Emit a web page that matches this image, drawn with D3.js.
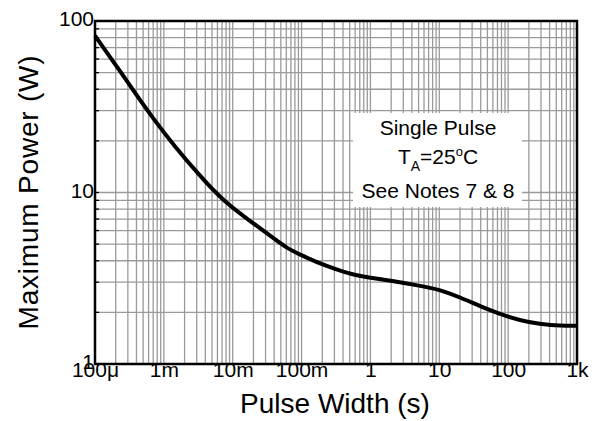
<html>
<head>
    <script src="https://d3js.org/d3.v7.min.js"></script>
    <style>
        body { margin: 0; background: #fff; }
        text { font-family: "Liberation Sans", Arial, sans-serif; fill: #000; }
    </style>
</head>
<body>
<script>
// data (pulse width in s, max power in W)
var pulseWidth = [1e-4, 2e-4, 4e-4, 7e-4, 1.4e-3, 3.4e-3, 7.3e-3, 0.02, 0.035, 0.06, 0.1, 0.2, 0.3, 0.5, 1, 2, 5, 10, 20, 50, 100, 200, 400, 1000];
var maxPower   = [82, 55.5, 37, 27, 18.8, 12.4, 8.9, 6.6, 5.6, 4.75, 4.3, 3.8, 3.6, 3.35, 3.18, 3.06, 2.87, 2.72, 2.45, 2.08, 1.88, 1.75, 1.68, 1.67];
var xTickValues = [1e-4, 1e-3, 1e-2, 1e-1, 1, 10, 100, 1000];
var xTickLabels = ["100\u03bc", "1m", "10m", "100m", "1", "10", "100", "1k"];
var yTickValues = [1, 10, 100];
var yTickLabels = ["1", "10", "100"];
var noteLines = ["Single Pulse", "TA=25oC", "See Notes 7 & 8"];

var w = 597, h = 421;
var pLeft = 95, pRight = 577, pTop = 21, pBottom = 364;

var xScale = d3.scaleLog().domain([1e-4, 1e3]).range([pLeft, pRight]);
var yScale = d3.scaleLog().domain([1, 100]).range([pBottom, pTop]);

var svg = d3.select("body").append("svg").attr("width", w).attr("height", h);

// grid: 1..9 in every decade
var xGrid = [], yGrid = [];
for (var e = -4; e < 3; e++) for (var k = 1; k < 10; k++) xGrid.push(k * Math.pow(10, e));
for (var e2 = 0; e2 < 2; e2++) for (var k2 = 1; k2 < 10; k2++) yGrid.push(k2 * Math.pow(10, e2));

var grid = svg.append("g").attr("stroke", "#9a9a9a").attr("stroke-width", 1.3);
grid.selectAll(".gx").data(xGrid).enter().append("line")
    .attr("x1", function(d){ return xScale(d); }).attr("x2", function(d){ return xScale(d); })
    .attr("y1", pTop).attr("y2", pBottom);
grid.selectAll(".gy").data(yGrid).enter().append("line")
    .attr("x1", pLeft).attr("x2", pRight)
    .attr("y1", function(d){ return yScale(d); }).attr("y2", function(d){ return yScale(d); });

// inward ticks on the left axis
var ticks = svg.append("g").attr("stroke", "#000").attr("stroke-width", 1.3);
ticks.selectAll(".ty").data(yGrid).enter().append("line")
    .attr("x1", pLeft).attr("x2", pLeft + 4)
    .attr("y1", function(d){ return yScale(d); }).attr("y2", function(d){ return yScale(d); });

// note box
var box = svg.append("g");
box.append("rect").attr("x", 353).attr("y", 113).attr("width", 169).attr("height", 94).attr("fill", "#fff");
box.append("text").attr("x", 438).attr("y", 135).attr("text-anchor", "middle").attr("font-size", 21).text(noteLines[0]);
var ta = box.append("text").attr("x", 438).attr("y", 164).attr("text-anchor", "middle").attr("font-size", 21);
ta.append("tspan").text("T");
ta.append("tspan").attr("font-size", 14).attr("dy", 7).text("A");
ta.append("tspan").attr("dy", -7).text("=25");
ta.append("tspan").attr("font-size", 13).attr("dy", -8).text("o");
ta.append("tspan").attr("dy", 8).text("C");
box.append("text").attr("x", 438).attr("y", 198).attr("text-anchor", "middle").attr("font-size", 21).text(noteLines[2]);

// curve
var line = d3.line()
    .x(function(d, i){ return xScale(pulseWidth[i]); })
    .y(function(d){ return yScale(d); })
    .curve(d3.curveBasis);
svg.append("path").attr("d", line(maxPower))
    .attr("fill", "none").attr("stroke", "#000").attr("stroke-width", 4)
    .attr("stroke-linejoin", "round");

// frame
svg.append("rect").attr("x", pLeft).attr("y", pTop).attr("width", pRight - pLeft).attr("height", pBottom - pTop)
    .attr("fill", "none").attr("stroke", "#000").attr("stroke-width", 2.5);

// axis labels via d3 axes (lines hidden)
var xAxis = d3.axisBottom(xScale).tickValues(xTickValues).tickSize(0).tickPadding(0)
    .tickFormat(function(d, i){ return xTickLabels[i]; });
var yAxis = d3.axisLeft(yScale).tickValues(yTickValues).tickSize(0).tickPadding(0)
    .tickFormat(function(d, i){ return yTickLabels[i]; });
var gx = svg.append("g").attr("transform", "translate(0," + pBottom + ")").call(xAxis);
var gy = svg.append("g").attr("transform", "translate(" + (pLeft - 1) + ",0)").call(yAxis);
[gx, gy].forEach(function(g){
    g.select(".domain").remove();
    g.selectAll("text").attr("font-family", "Liberation Sans, Arial, sans-serif").attr("font-size", 21).attr("fill", "#000");
});
gx.selectAll("text").attr("dy", null).attr("y", 13);
gy.selectAll("text").attr("dy", "0.32em").attr("y", -2);

svg.append("text").attr("x", 335).attr("y", 413).attr("text-anchor", "middle").attr("font-size", 28).text("Pulse Width (s)");
svg.append("text").attr("transform", "translate(38,192) rotate(-90)").attr("text-anchor", "middle")
    .attr("font-size", 28).attr("letter-spacing", 0.8).text("Maximum Power (W)");
</script>
</body>
</html>
